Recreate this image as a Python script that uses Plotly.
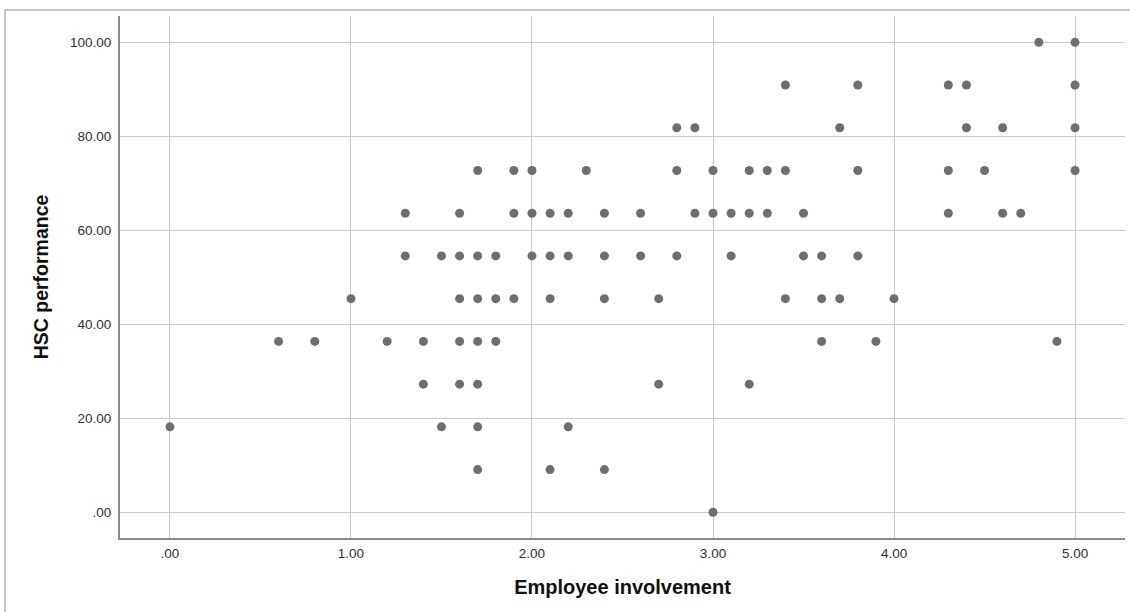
import plotly.graph_objects as go

# HSC performance levels (score out of 11, expressed as percent)
lvl = {k: round(k * 100 / 11, 2) for k in range(12)}

# Employee involvement scores grouped by HSC performance level
involvement_by_level = {
    11: [4.8, 5.0],
    10: [3.4, 3.8, 4.3, 4.4, 5.0],
    9: [2.8, 2.9, 3.7, 4.4, 4.6, 5.0],
    8: [1.7, 1.9, 2.0, 2.3, 2.8, 3.0, 3.2, 3.3, 3.4, 3.8, 4.3, 4.5, 5.0],
    7: [1.3, 1.6, 1.9, 2.0, 2.1, 2.2, 2.4, 2.6, 2.9, 3.0, 3.1, 3.2, 3.3, 3.5, 4.3, 4.6, 4.7],
    6: [1.3, 1.5, 1.6, 1.7, 1.8, 2.0, 2.1, 2.2, 2.4, 2.6, 2.8, 3.1, 3.5, 3.6, 3.8],
    5: [1.0, 1.6, 1.7, 1.8, 1.9, 2.1, 2.4, 2.7, 3.4, 3.6, 3.7, 4.0],
    4: [0.6, 0.8, 1.2, 1.4, 1.6, 1.7, 1.8, 3.6, 3.9, 4.9],
    3: [1.4, 1.6, 1.7, 2.7, 3.2],
    2: [0.0, 1.5, 1.7, 2.2],
    1: [1.7, 2.1, 2.4],
    0: [3.0],
}

employee_involvement = []
hsc_performance = []
for k, xs in involvement_by_level.items():
    for x in xs:
        employee_involvement.append(x)
        hsc_performance.append(lvl[k])

x_ticks = [0, 1, 2, 3, 4, 5]
x_ticktext = [".00", "1.00", "2.00", "3.00", "4.00", "5.00"]
y_ticks = [0, 20, 40, 60, 80, 100]
y_ticktext = [".00", "20.00", "40.00", "60.00", "80.00", "100.00"]

W, H = 1130, 612
L, R, T, B = 120, 5, 16, 74
pw, ph = W - L - R, H - T - B

FONT = "Liberation Sans, Arial, sans-serif"

fig = go.Figure(
    go.Scatter(
        x=employee_involvement,
        y=hsc_performance,
        mode="markers",
        marker=dict(size=9, color="#6e6e6e", line=dict(width=0)),
        hoverinfo="x+y",
    )
)

axis_common = dict(
    showgrid=True,
    gridcolor="#c9c9c9",
    gridwidth=1,
    zeroline=False,
    showline=True,
    linecolor="#8a8a8a",
    linewidth=2,
    ticks="",
    tickfont=dict(family=FONT, size=13.5, color="#303030"),
)

fig.update_xaxes(
    range=[-0.276, 5.276],
    tickvals=x_ticks,
    ticktext=x_ticktext,
    ticklabelstandoff=2,
    title_text="<b>Employee involvement</b>",
    title_font=dict(family=FONT, size=20, color="#111111"),
    title_standoff=20,
    **axis_common,
)
fig.update_yaxes(
    range=[-5.47, 105.6],
    tickvals=y_ticks,
    ticktext=y_ticktext,
    ticklabelstandoff=4,
    title_text="<b>HSC performance</b>",
    title_font=dict(family=FONT, size=19.5, color="#111111"),
    title_standoff=16,
    **axis_common,
)

# Outer frame around the chart (left and top edges visible)
fig.add_shape(
    type="rect",
    xref="paper", yref="paper",
    x0=(5 - L) / pw, x1=1.2,
    y0=-0.3, y1=1 + (T - 10) / ph,
    line=dict(color="#8a8a8a", width=1),
    layer="below",
)

fig.update_layout(
    width=W,
    height=H,
    margin=dict(l=L, r=R, t=T, b=B, autoexpand=False),
    plot_bgcolor="white",
    paper_bgcolor="white",
    showlegend=False,
)

fig.write_html("out.html")
